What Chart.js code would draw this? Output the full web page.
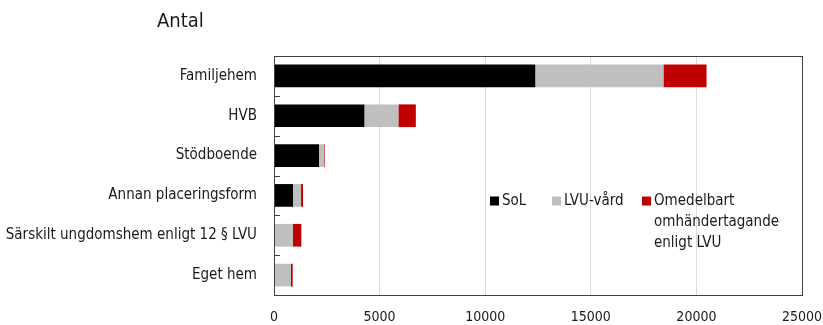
<!DOCTYPE html>
<html>
<head>
  <meta charset="utf-8">
  <title>Antal</title>
  <script src="https://cdn.jsdelivr.net/npm/chart.js"></script>
  <style>
    body { margin: 0; padding: 0; background: white; }
    .wrap { width: 823px; height: 325px; position: relative; }
  </style>
</head>
<body>
  <div class="wrap"><canvas id="chart" width="823" height="325"></canvas></div>

  <script>
    // Data
    const categories = ['Familjehem', 'HVB', 'Stödboende', 'Annan placeringsform', 'Särskilt ungdomshem enligt 12 § LVU', 'Eget hem'];
    const seriesNames = ['SoL', 'LVU-vård', ['Omedelbart', 'omhändertagande', 'enligt LVU']];
    const solValues = [12370, 4280, 2130, 900, 0, 0];
    const lvuValues = [6070, 1610, 240, 380, 900, 805];
    const omedelbartValues = [2040, 825, 30, 95, 395, 80];
    const xTicks = [0, 5000, 10000, 15000, 20000, 25000];
    const titleText = 'Antal';

    const colors = ['#000000', '#bfbfbf', '#c00000'];
    const fontFamily = "'DejaVu Sans Condensed', sans-serif";

    // Title, box, inward y ticks and legend drawn on top
    const decorations = {
      id: 'decorations',
      afterDraw(chart) {
        const ctx = chart.ctx;
        const area = chart.chartArea;
        const yScale = chart.scales.y;
        ctx.save();

        ctx.fillStyle = '#1a1a1a';
        ctx.font = '20px ' + fontFamily;
        ctx.textBaseline = 'middle';
        ctx.textAlign = 'left';
        ctx.fillText(titleText, 157, 22);

        ctx.strokeStyle = '#404040';
        ctx.lineWidth = 1;
        ctx.strokeRect(area.left + 0.5, area.top + 0.5, area.right - area.left, area.bottom - area.top);

        // short inward ticks at category boundaries
        for (let i = 0; i <= categories.length; i++) {
          const y = Math.round(yScale.getPixelForValue(i - 0.5)) + 0.5;
          ctx.beginPath();
          ctx.moveTo(area.left, y);
          ctx.lineTo(area.left + 6, y);
          ctx.stroke();
        }

        // legend
        const legendX = [490, 552, 642];
        const legendY = 201;
        ctx.font = '15px ' + fontFamily;
        ctx.textBaseline = 'middle';
        chart.data.datasets.forEach((ds, i) => {
          ctx.fillStyle = ds.backgroundColor;
          ctx.fillRect(legendX[i], legendY - 4.5, 9, 9);
          ctx.fillStyle = '#1a1a1a';
          const lines = Array.isArray(seriesNames[i]) ? seriesNames[i] : [seriesNames[i]];
          lines.forEach((t, j) => ctx.fillText(t, legendX[i] + 12, legendY + j * 21));
        });

        ctx.restore();
      }
    };

    const ctx = document.getElementById('chart').getContext('2d');
    new Chart(ctx, {
      type: 'bar',
      data: {
        labels: categories,
        datasets: [
          { label: 'SoL', data: solValues, backgroundColor: colors[0] },
          { label: 'LVU-vård', data: lvuValues, backgroundColor: colors[1] },
          { label: 'Omedelbart omhändertagande enligt LVU', data: omedelbartValues, backgroundColor: colors[2] }
        ]
      },
      options: {
        indexAxis: 'y',
        responsive: false,
        animation: false,
        layout: { padding: { top: 56, right: 0, left: 0, bottom: 0 } },
        datasets: { bar: { barPercentage: 0.57, categoryPercentage: 1 } },
        plugins: {
          legend: { display: false },
          tooltip: { enabled: false }
        },
        scales: {
          x: {
            stacked: true,
            min: 0,
            max: 25000,
            afterBuildTicks: (scale) => { scale.ticks = xTicks.map(v => ({ value: v })); },
            afterFit: (scale) => { scale.height = 30; scale.paddingRight = 21; },
            grid: { color: '#dcdcd4', drawTicks: false },
            border: { display: false },
            ticks: {
              color: '#1a1a1a',
              font: { family: fontFamily, size: 14 },
              padding: 14,
              maxRotation: 0,
              callback: (v) => String(v)
            }
          },
          y: {
            stacked: true,
            afterFit: (scale) => { scale.width = 274; },
            grid: { display: false, drawTicks: false, tickLength: 0 },
            border: { display: false },
            ticks: {
              color: '#1a1a1a',
              font: { family: fontFamily, size: 15 },
              padding: 17
            }
          }
        }
      },
      plugins: [decorations]
    });
  </script>
</body>
</html>
